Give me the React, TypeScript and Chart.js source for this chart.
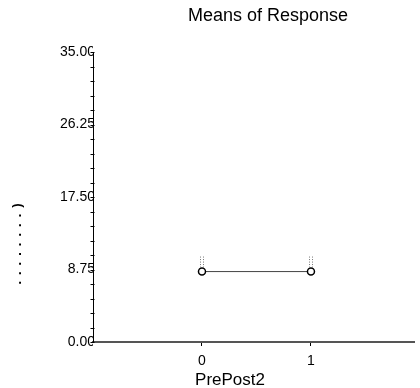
import React, { useEffect, useRef } from "react";
import { Chart, registerables } from "chart.js";

Chart.register(...registerables);

const categories = [0, 1];
const meanValues = [8.5, 8.5];
const upperValues = [10.4, 10.4];
const yTickLabels = ["0.00", "8.75", "17.50", "26.25", "35.00"];
const chartTitle = "Means of Response";
const xTitle = "PrePost2";
const yTitle = "........)";

const FONT = "'Liberation Sans', Arial, sans-serif";

export default function App() {
  const ref = useRef<HTMLCanvasElement | null>(null);
  useEffect(() => {
    document.body.style.margin = "0";
    const canvas = ref.current!;
    const deco = {
      id: "deco",
      afterDraw(chart: any) {
        const { ctx, scales } = chart;
        const xs = scales.x, ys = scales.y;
        // error bars
        ctx.save();
        ctx.strokeStyle = "#777";
        ctx.lineWidth = 1;
        ctx.setLineDash([1, 1.5]);
        categories.forEach((c, i) => {
          const px = Math.round(xs.getPixelForValue(c));
          const y0 = ys.getPixelForValue(meanValues[i]) - 4;
          const y1 = ys.getPixelForValue(upperValues[i]);
          [-1.5, 1.5].forEach((d) => {
            ctx.beginPath();
            ctx.moveTo(px + d, y0);
            ctx.lineTo(px + d, y1);
            ctx.stroke();
          });
        });
        ctx.restore();
        // y minor/major ticks crossing the axis
        ctx.save();
        ctx.strokeStyle = "#000";
        ctx.lineWidth = 1;
        const ax = Math.round(ys.right) - 0.5;
        for (let i = 0; i <= 20; i++) {
          const py = Math.round(ys.getPixelForValue(i * 1.75)) + 0.5;
          ctx.beginPath();
          ctx.moveTo(ax - 2, py);
          ctx.lineTo(ax + 2, py);
          ctx.stroke();
        }
        ctx.restore();
        // texts
        ctx.save();
        ctx.fillStyle = "#000";
        ctx.textAlign = "center";
        ctx.textBaseline = "alphabetic";
        ctx.font = `18px ${FONT}`;
        ctx.fillText(chartTitle, 268, 21);
        ctx.font = `17px ${FONT}`;
        ctx.fillText(xTitle, 230, 385);
        ctx.translate(17, 241);
        ctx.rotate(-Math.PI / 2);
        ctx.font = `bold 13px ${FONT}`;
        (ctx as any).letterSpacing = "6px";
        ctx.textBaseline = "middle";
        ctx.fillText(yTitle, 0, 0);
        ctx.restore();
      },
    };
    const chart = new Chart(canvas, {
      type: "scatter",
      data: {
        datasets: [
          {
            data: categories.map((c, i) => ({ x: c, y: meanValues[i] })),
            showLine: true,
            borderColor: "#444",
            borderWidth: 1,
            pointStyle: "circle",
            pointRadius: 3.5,
            pointBorderWidth: 1.5,
            pointBorderColor: "#000",
            pointBackgroundColor: "#fff",
          },
        ],
      },
      options: {
        animation: false,
        responsive: false,
        layout: { padding: { left: 0, right: 0, top: 52, bottom: 0 } },
        plugins: {
          legend: { display: false },
          tooltip: { enabled: false },
          title: { display: false },
        },
        scales: {
          x: {
            type: "linear",
            min: -1,
            max: 1.95,
            afterBuildTicks: (axis: any) => {
              axis.ticks = categories.map((v) => ({ value: v }));
            },
            afterFit: (axis: any) => {
              axis.height = 46;
            },
            border: { display: true, color: "#555", width: 2 },
            grid: { display: true, drawOnChartArea: false, tickLength: 4, color: "#000" },
            ticks: {
              color: "#000",
              font: { family: FONT, size: 14 },
              padding: 7,
              maxRotation: 0,
              callback: (v: any) => String(v),
            },
          },
          y: {
            type: "linear",
            min: 0,
            max: 35,
            afterBuildTicks: (axis: any) => {
              const t: any[] = [];
              for (let i = 0; i <= 20; i++) t.push({ value: i * 1.75 });
              axis.ticks = t;
            },
            afterFit: (axis: any) => {
              axis.width = 93;
            },
            border: { display: true, color: "#000", width: 1 },
            grid: { display: false, drawOnChartArea: false, drawTicks: false },
            ticks: {
              color: "#000",
              font: { family: FONT, size: 14 },
              padding: -2,
              autoSkip: false,
              callback: (_v: any, i: number) => (i % 5 === 0 ? yTickLabels[i / 5] : ""),
            },
          },
        },
      },
      plugins: [deco],
    });
    return () => chart.destroy();
  }, []);
  return (
    <div style={{ position: "absolute", left: 0, top: 0, width: 420, height: 388, background: "#fff" }}>
      <canvas ref={ref} width={420} height={388} />
    </div>
  );
}
